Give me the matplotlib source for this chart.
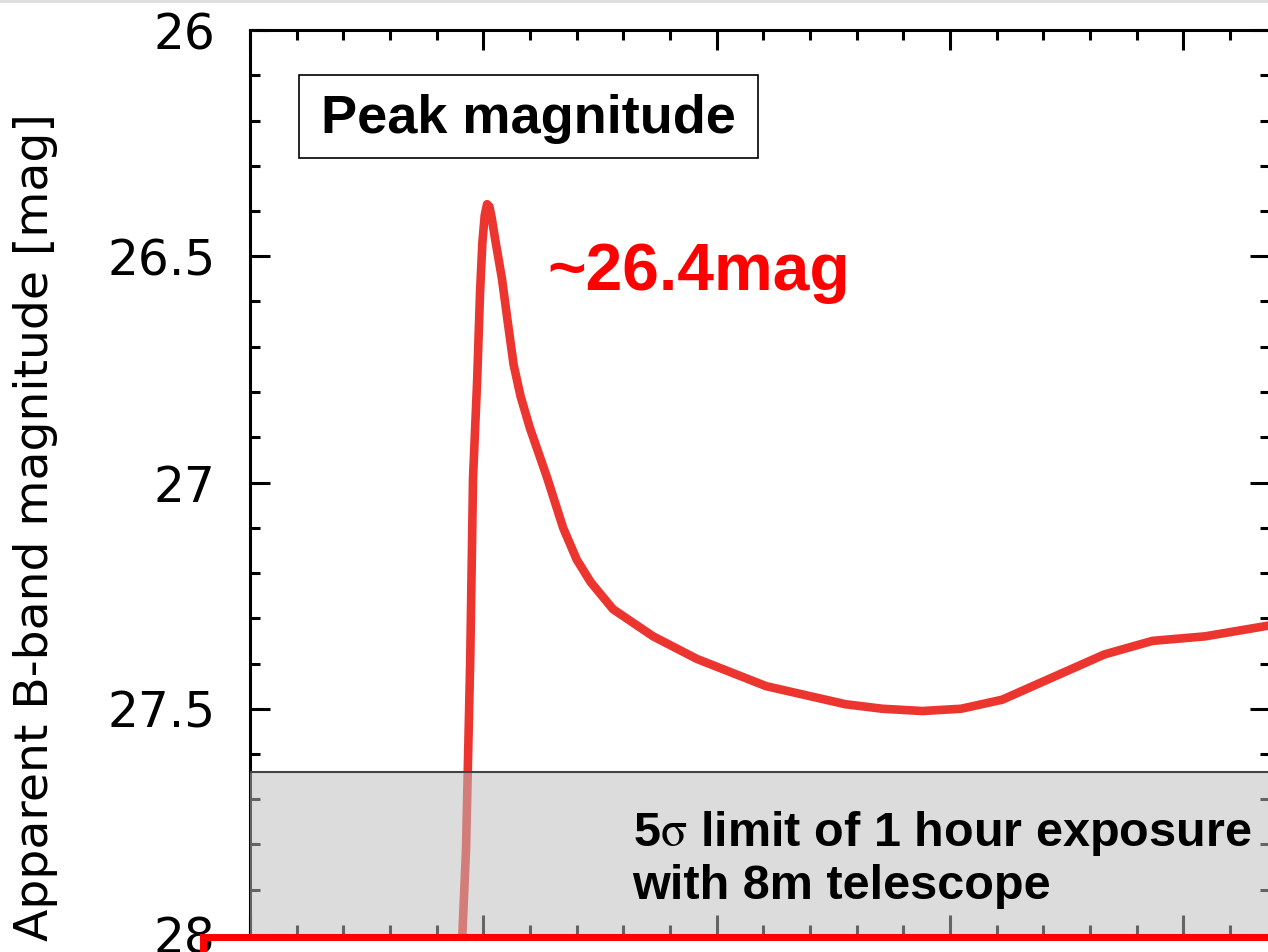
import matplotlib.pyplot as plt
from matplotlib.patches import Rectangle
from matplotlib.lines import Line2D
from matplotlib.ticker import MultipleLocator

plt.rcParams['mathtext.fontset'] = 'stix'

# light curve (time axis unlabeled, 1 unit per minor tick)
time = [4.53, 4.63, 4.72, 4.78, 4.87, 4.93, 4.98, 5.03, 5.08, 5.13, 5.18,
        5.25, 5.40, 5.53, 5.65, 5.80, 6.00, 6.37, 6.71, 7.00, 7.30, 7.78,
        8.64, 9.58, 11.06, 12.76, 13.55, 14.41, 15.24, 16.12, 18.31, 19.34,
        20.47, 21.90]
mag = [28.05, 27.81, 27.39, 26.99, 26.77, 26.58, 26.47, 26.41, 26.385,
       26.39, 26.415, 26.46, 26.55, 26.65, 26.74, 26.81, 26.88, 26.99, 27.10,
       27.17, 27.22, 27.28, 27.34, 27.39, 27.45, 27.49, 27.50, 27.505, 27.50,
       27.48, 27.38, 27.35, 27.34, 27.315]

limit_mag = 27.64
yticks = [26, 26.5, 27, 27.5, 28]
ytick_labels = ['26', '26.5', '27', '27.5', '28']

fig = plt.figure(figsize=(12.68, 9.52), dpi=100)
ax = fig.add_axes([250 / 1268, 1 - 935 / 952, 1020 / 1268, 905 / 952])

ax.plot(time, mag, color='#ec352f', lw=6.2, solid_capstyle='round',
        solid_joinstyle='round', zorder=2)

# shaded detection limit
ax.axhspan(limit_mag, 28.3, facecolor='#bebebe', alpha=0.53, lw=0, zorder=3)
ax.axhline(limit_mag, color='#444444', lw=1.5, zorder=3)

ax.set_xlim(0, 21.86)
ax.set_ylim(28, 26)
ax.set_yticks(yticks)
ax.set_yticklabels(ytick_labels)
ax.yaxis.set_minor_locator(MultipleLocator(0.1))
ax.xaxis.set_major_locator(MultipleLocator(5))
ax.xaxis.set_minor_locator(MultipleLocator(1))
ax.tick_params(which='both', direction='in', top=True, right=True, bottom=True,
               labelbottom=False, width=2.2)
ax.tick_params(which='major', length=14.5)
ax.tick_params(which='minor', length=7)
ax.tick_params(axis='y', which='major', labelsize=35, pad=25)
for s in ax.spines.values():
    s.set_linewidth(2.2)

fig.text(36 / 1268, 1 - 527 / 952, 'Apparent B-band magnitude [mag]',
         rotation=90, ha='center', va='center', fontsize=34)

# "Peak magnitude" box
fig.patches.append(Rectangle((299 / 1268, 1 - 158 / 952), 459 / 1268, 83 / 952,
                             transform=fig.transFigure, fill=False,
                             edgecolor='black', lw=1.2))
fig.text(528 / 1268, 1 - 119 / 952, 'Peak magnitude', ha='center', va='center',
         fontsize=39, fontweight='bold', family='Liberation Sans')

ax.text(6.38, 26.575, '~26.4mag', color='#ff0000', fontsize=47.5,
        fontweight='bold', family='Liberation Sans', ha='left', va='baseline',
        zorder=5)

ax.text(8.2, 27.832, '5$\\mathrm{\\sigma}$ limit of 1 hour exposure\nwith 8m telescope',
        fontsize=35, fontweight='bold', family='Liberation Sans', ha='left',
        va='center', linespacing=1.15, zorder=5)

# red highlight frame from the slide
fig.patches.append(Rectangle((203 / 1268, -0.2), 1.0, 0.2 + (952 - 937) / 952,
                             transform=fig.transFigure, fill=False,
                             edgecolor='#ff0000', lw=5, zorder=10))
fig.lines.append(Line2D([0, 1], [0.999, 0.999], transform=fig.transFigure,
                        color='#dddddd', lw=2))

fig.savefig('out.png', dpi=100)
